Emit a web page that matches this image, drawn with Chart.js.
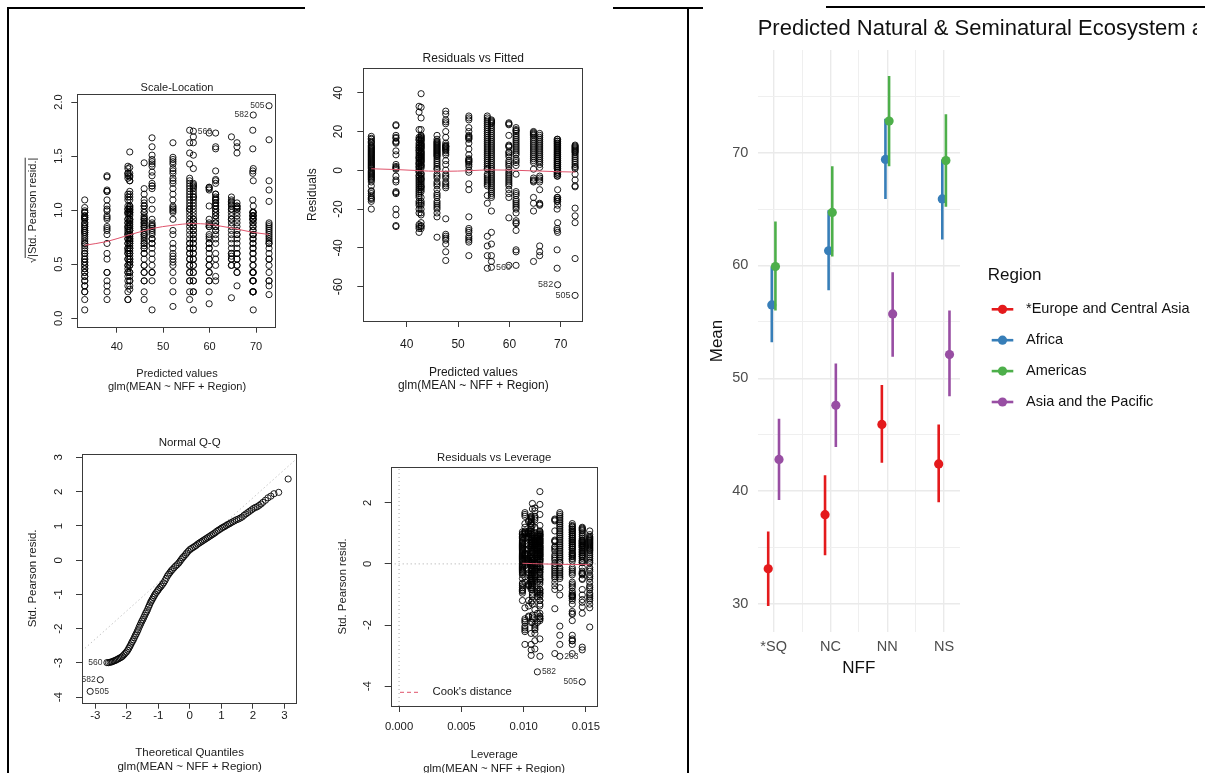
<!DOCTYPE html>
<html>
<head>
<meta charset="utf-8">
<title>GLM diagnostics and predicted means</title>
<script src="https://cdn.jsdelivr.net/npm/chart.js@4.4.1/dist/chart.umd.min.js"></script>
<style>
  html, body { margin: 0; padding: 0; background: #fff; }
  body { width: 1205px; height: 773px; position: relative; overflow: hidden; }
  canvas { position: absolute; }
  .rule { position: absolute; background: #000; }
</style>
</head>
<body>
<div class="rule" style="left:7px;top:7px;width:298px;height:1.5px"></div>
<div class="rule" style="left:7px;top:7px;width:2px;height:766px"></div>
<div class="rule" style="left:613px;top:7px;width:90px;height:1.5px"></div>
<div class="rule" style="left:687px;top:7px;width:2px;height:766px"></div>
<div class="rule" style="left:826px;top:6px;width:371px;height:1.5px"></div>
<div class="rule" style="left:1197px;top:5.5px;width:8px;height:2.5px"></div>

<canvas id="scaleLocation"></canvas>
<canvas id="residFitted"></canvas>
<canvas id="normalQQ"></canvas>
<canvas id="residLeverage"></canvas>
<canvas id="predicted"></canvas>

<script>
// ---------------- predicted Mean by NFF and Region (estimate, lower, upper) ----------------
const nffLevels = ['*SQ', 'NC', 'NN', 'NS'];
const regionNames = ['*Europe and Central Asia', 'Africa', 'Americas', 'Asia and the Pacific'];

const europeMean   = [33.1, 37.9, 45.9, 42.4];
const europeLow    = [29.8, 34.3, 42.5, 39.0];
const europeHigh   = [36.4, 41.4, 49.4, 45.9];
const africaMean   = [56.5, 61.3, 69.4, 65.9];
const africaLow    = [53.2, 57.8, 65.9, 62.3];
const africaHigh   = [59.9, 64.9, 73.0, 69.4];
const americasMean = [59.9, 64.7, 72.8, 69.3];
const americasLow  = [56.0, 60.8, 68.8, 65.2];
const americasHigh = [63.9, 68.8, 76.8, 73.4];
const asiaMean     = [42.8, 47.6, 55.7, 52.1];
const asiaLow      = [39.2, 43.9, 51.9, 48.4];
const asiaHigh     = [46.4, 51.3, 59.4, 56.0];

// ---------------- residuals of glm(MEAN ~ NFF + Region), one list per cell ----------------
const residEuropeSQ = [17.5, 16.5, 16, 15, 14.5, 14, 13, 12.5, 12, 11.5, 11, 10.5, 10, 9.5, 9, 8.5, 8, 7.5, 7, 6.5, 6, 5.5, 5, 4.5, 4, 3.5, 3, 2.5, 2, 1.5, 1, 0.1, -0.5, -1, -1.5, -2, -2.5, -3, -3.5, -4, -4.5, -5, -6, -8, -10.5, -11, -12, -13, -14, -14.5, -15, -16, -20];
const residEuropeNC = [23.5, 23, 18, 17, 16.5, 15, 14.5, 14, 10, 8, 3, 2, 1.5, 1, 0.5, -3, -5, -6, -11, -11.5, -12, -20, -23, -28.5, -29];
const residEuropeNN = [18, 16, 15, 14.5, 14, 13.5, 13, 12.5, 12, 11.5, 11, 10.5, 10, 9.5, 9, 8.5, 8, 7.5, 7, 6, 5, 4, 3, 2, 1, 0.5, -2, -3, -4, -6, -7, -8, -10, -12, -13, -14, -16, -17, -18, -19, -20, -22, -24, -34.5];
const residEuropeNS = [33, 30, 21, 17, 16, 15.5, 14, 13, 12, 11.5, 10.5, 10, 9, 8, 7, 6.5, 6, 5, 4, 3.5, 3, 2, 1.5, 0.5, -0.5, -1, -2.5, -3, -4, -5, -6, -7, -8, -9, -10, -11, -12, -13, -14, -16, -17, -18, -20, -22, -28, -29, -30, -32];
const residAfricaSQ = [26, 25.5, 25, 24.5, 24, 23, 22, 21, 20, 19, 18, 17, 16, 15, 14, 13, 12, 11, 10, 9, 8, 7, 6, 5, 4, 3, 2, 1, 0.1, -1, -2, -3, -4, -5, -6, -7, -8, -9, -10, -11, -12, -13, -14, -21, -32, -38, -44, -47, -50];
const residAfricaNC = [22, 21, 20.5, 20, 19, 18, 17, 16, 15, 14, 13, 12, 11, 10, 9, 8, 6, 5, 4, 2.5, -2, -11, -12, -13, -15, -16, -17, -18, -19, -20, -22, -26, -27, -27.5, -31, -41, -42, -49];
const residAfricaNN = [16, 15, 14, 13, 12, 11, 10, 9, 8, 7, 6, 5, 4, 3, 2, 1, 0.1, -1, -2, -3, -10, -14, -15, -16, -18, -27, -32, -59];
const residAfricaNS = [19, 18, 17, 16, 15, 14, 13, 12, 11, 10, 9, 8, 7, 6, 5, 4, 3, 1.5, -3, -4, -5, -6, -10, -17, -17.5, -18, -39, -42, -44];
const residAmericasSQ = [24.5, 24, 23.5, 18, 13, 12.5, 12, 9.5, 9, 8, 7, 5, 4, 3, 2, 0.3, -1, -2, -3, -4, -5, -6, -7, -8, -10, -12, -14, -24.5, -49];
const residAmericasNC = [20, 19.5, 19, 18.5, 18, 17, 16, 15, 14, 13, 12, 11, 10, 9, 8, 7, 6, 5, 4, 0.6, -4, -5, -5.5, -6, -14, -17, -21, -47];
const residAmericasNN = [13, 12.5, 12, 11.5, 11, 10.5, 10, 9.5, 9, 8, 7, 6, 5, 4, 3, 2, 1.5, 0.8, -2, -5, -8, -8.5, -19.5, -23.5, -27, -45.5, -64.5];
const residAmericasNS = [16, 15, 14, 13, 12, 11, 10, 9, 8, 7, 6, 5, 4, 3, 2, 1, -1, -2, -3, -14, -15, -16, -20, -30, -31, -41, -50.5];
const residAsiaSQ = [39.5, 32.5, 27, 21, 18, 17.5, 17, 16.5, 16, 15.5, 15, 14, 13.5, 13, 12.5, 12, 11.5, 11, 10, 9.5, 9, 8.5, 8, 7.5, 7, 6.5, 6, 5.5, 5, 4.5, 4, 3, 2.5, 2, 1.2, -1.5, -2, -3, -4, -4.5, -5, -6, -7, -8, -8.5, -9, -10, -11, -14, -16, -17, -18, -20, -22, -23, -27, -28.5, -29, -30];
const residAsiaNC = [30.5, 29, 26, 25, 24, 20, 17, 14, 13, 12.5, 12.2, 12, 11.5, 11, 10.5, 10, 9, 8, 5, 3, 0.1, -2, -3, -4, -6, -7, -8, -9, -25, -33, -34, -35, -36, -38, -42, -46.5];
const residAsiaNN = [28, 27, 26, 25, 24, 23, 22, 21, 20, 19, 18, 17, 16, 15, 14, 13, 12, 11, 10, 9, 8, 7, 6, 5, 4, 3, 2, 1, 0.5, -2, -3, -4, -5, -6, -7, -8, -13, -17, -34, -39, -44, -50.5];
const residAsiaNS = [28, 27, 26, 22, 20, 18, 17.5, 17, 16.5, 16, 14, 11, 8, 6, 5.5, 5, 4.5, 4, 3, 2, 0.2, -1, -7, -10, -24, -30, -31, -32, -34, -35, -36, -37, -44];

// hat values per cell (NFF order) and residual scale
const europeLeverage   = [0.0099, 0.0104, 0.0153, 0.0107];
const africaLeverage   = [0.0106, 0.0139, 0.0111, 0.0139];
const americasLeverage = [0.0125, 0.0147, 0.0147, 0.0113];
const asiaLeverage     = [0.0113, 0.0109, 0.0129, 0.0101];
const residualSigma = 16.7;

// loess smooths
const smoothFitted   = [33.1, 37.9, 42.6, 45.9, 47.6, 52.1, 56.1, 59.9, 61.3, 64.7, 65.9, 69.35, 72.8];
const smoothResid    = [0.8, 0.4, -0.2, -0.5, -0.5, -0.2, 0.2, 0.1, 0, -0.3, -0.4, -0.7, -0.9];
const smoothSqrtAbs  = [0.675, 0.71, 0.77, 0.81, 0.83, 0.86, 0.875, 0.87, 0.86, 0.835, 0.825, 0.795, 0.775];
const smoothLeverage = [0.0099, 0.0107, 0.0113, 0.0125, 0.0139, 0.0147, 0.0153];
const smoothStdResid = [0.02, 0.01, 0.0, -0.01, -0.02, -0.02, -0.03];

// normal Q-Q: theoretical quantiles and ordered standardized residuals
const qqTheoretical = [-3.16, -2.84, -2.63, -2.58, -2.53, -2.49, -2.45, -2.41, -2.37, -2.33, -2.29, -2.25, -2.21, -2.17, -2.13, -2.09, -2.05, -2.01, -1.97, -1.94, -1.91, -1.88, -1.85, -1.82, -1.79, -1.76, -1.73, -1.70, -1.67, -1.64, -1.61, -1.58, -1.55, -1.52, -1.49, -1.46, -1.43, -1.40, -1.37, -1.34, -1.31, -1.28, -1.25, -1.22, -1.19, -1.16, -1.13, -1.10, -1.06, -1.02, -0.99, -0.95, -0.91, -0.87, -0.83, -0.79, -0.75, -0.71, -0.67, -0.63, -0.59, -0.55, -0.50, -0.45, -0.40, -0.35, -0.31, -0.27, -0.23, -0.19, -0.14, -0.10, -0.05, 0.00, 0.05, 0.10, 0.15, 0.20, 0.25, 0.30, 0.35, 0.40, 0.45, 0.50, 0.55, 0.60, 0.65, 0.70, 0.75, 0.80, 0.85, 0.90, 0.95, 1.00, 1.05, 1.10, 1.15, 1.20, 1.25, 1.30, 1.36, 1.42, 1.48, 1.54, 1.60, 1.66, 1.72, 1.78, 1.84, 1.90, 1.96, 2.02, 2.08, 2.14, 2.20, 2.26, 2.32, 2.40, 2.48, 2.57, 2.67, 2.82, 3.12];
const qqStdResid = [-3.83, -3.49, -2.99, -2.99, -2.98, -2.97, -2.96, -2.94, -2.93, -2.91, -2.89, -2.87, -2.85, -2.83, -2.80, -2.76, -2.72, -2.68, -2.63, -2.58, -2.53, -2.48, -2.42, -2.37, -2.32, -2.26, -2.20, -2.15, -2.09, -2.03, -1.96, -1.90, -1.84, -1.78, -1.73, -1.67, -1.61, -1.55, -1.50, -1.44, -1.37, -1.31, -1.24, -1.19, -1.14, -1.09, -1.04, -0.99, -0.94, -0.89, -0.85, -0.80, -0.76, -0.71, -0.66, -0.60, -0.53, -0.46, -0.41, -0.36, -0.31, -0.27, -0.22, -0.17, -0.13, -0.08, -0.03, 0.02, 0.07, 0.11, 0.16, 0.21, 0.26, 0.31, 0.34, 0.37, 0.40, 0.43, 0.47, 0.50, 0.53, 0.56, 0.59, 0.62, 0.65, 0.68, 0.71, 0.74, 0.77, 0.80, 0.84, 0.87, 0.90, 0.93, 0.96, 0.98, 1.01, 1.04, 1.06, 1.09, 1.12, 1.15, 1.18, 1.20, 1.23, 1.26, 1.31, 1.35, 1.39, 1.43, 1.47, 1.51, 1.54, 1.56, 1.60, 1.64, 1.69, 1.75, 1.82, 1.87, 1.94, 1.98, 2.37];
const qqLineX = [-3.42, 3.41];
const qqLineY = [-2.65, 2.98];

// flagged observations
const flaggedIds = ['505', '582', '560'];
const flaggedFitted = [72.8, 69.4, 56.5];
const flaggedResid = [-64.5, -59, -50];
const flaggedLevIds = ['505', '582', '203'];
const flaggedLeverage = [0.0147, 0.0111, 0.0129];
const flaggedLevResid = [-64.5, -59, -50.5];

// ---------------- shared helpers ----------------
const FONT = '"Liberation Sans", Arial, Helvetica, sans-serif';
const measureCtx = document.createElement('canvas').getContext('2d');
function textWidth(s, size) { measureCtx.font = size + 'px ' + FONT; return measureCtx.measureText(s).width; }

const regionMeans = [europeMean, africaMean, americasMean, asiaMean];
const regionLow = [europeLow, africaLow, americasLow, asiaLow];
const regionHigh = [europeHigh, africaHigh, americasHigh, asiaHigh];
const regionLeverage = [europeLeverage, africaLeverage, americasLeverage, asiaLeverage];
const cellResiduals = [
  [residEuropeSQ, residEuropeNC, residEuropeNN, residEuropeNS],
  [residAfricaSQ, residAfricaNC, residAfricaNN, residAfricaNS],
  [residAmericasSQ, residAmericasNC, residAmericasNN, residAmericasNS],
  [residAsiaSQ, residAsiaNC, residAsiaNN, residAsiaNS]
];
const cells = [];
regionMeans.forEach((means, r) => means.forEach((m, i) => {
  cells.push({ fitted: m, lev: regionLeverage[r][i], res: cellResiduals[r][i] });
}));

const R_POINT = { type: 'scatter', pointStyle: 'circle', pointRadius: 3.1, pointBorderWidth: 1,
  pointBorderColor: 'rgba(0,0,0,0.88)', pointBackgroundColor: 'rgba(0,0,0,0)', order: 2 };
const R_SMOOTH = { type: 'line', borderColor: '#DF536B', borderWidth: 1, pointRadius: 0,
  fill: false, cubicInterpolationMode: 'monotone', order: 0 };
const R_DOTTED = { type: 'line', borderColor: '#a8a8a8', borderWidth: 1, borderDash: [1, 3],
  pointRadius: 0, fill: false, order: 3 };

function pairs(xs, ys) { return xs.map((x, i) => ({ x, y: ys[i] })); }

function makeRFrame(d) {
  return {
    id: 'rFrame',
    afterDraw(chart) {
      const { ctx, chartArea: ca, scales } = chart;
      const ox = d.frame.left, oy = d.frame.top, fs = d.fs;
      ctx.save();
      ctx.strokeStyle = '#3a3a3a';
      ctx.lineWidth = 1;
      ctx.strokeRect(Math.round(ca.left) + 0.5, Math.round(ca.top) + 0.5,
        Math.round(ca.right - ca.left) - 1, Math.round(ca.bottom - ca.top));
      ctx.fillStyle = '#1a1a1a';
      ctx.font = fs + 'px ' + FONT;
      ctx.textAlign = 'center';
      ctx.textBaseline = 'middle';
      const cx = (ca.left + ca.right) / 2, cy = (ca.top + ca.bottom) / 2;
      ctx.fillText(d.title, cx, d.titleY - oy);
      d.xlab.forEach(([t, y]) => ctx.fillText(t, cx, y - oy));
      ctx.save();
      ctx.translate(d.ylabX - ox, cy);
      ctx.rotate(-Math.PI / 2);
      if (d.sqrtLabel) {
        const root = '\u221A', body = d.ylab;
        const wr = ctx.measureText(root).width, wb = ctx.measureText(body).width;
        const start = -(wr + wb) / 2;
        ctx.textAlign = 'left';
        ctx.textBaseline = 'alphabetic';
        ctx.fillText(root, start, 4);
        ctx.fillText(body, start + wr, 4);
        ctx.beginPath();
        ctx.lineWidth = 0.9;
        ctx.strokeStyle = '#1a1a1a';
        ctx.moveTo(start + wr - 1, -6.5);
        ctx.lineTo(start + wr + wb, -6.5);
        ctx.stroke();
      } else {
        ctx.fillText(d.ylab, 0, 0);
      }
      ctx.restore();
      ctx.font = d.idFs + 'px ' + FONT;
      ctx.fillStyle = '#333';
      ctx.textBaseline = 'middle';
      d.ids.forEach(l => {
        const px = scales.x.getPixelForValue(l.x), py = scales.y.getPixelForValue(l.y);
        ctx.textAlign = l.side === 'left' ? 'right' : 'left';
        ctx.fillText(l.text, px + (l.side === 'left' ? -4.5 : 4.5), py);
      });
      if (d.cookLegend) {
        ctx.strokeStyle = '#DF536B';
        ctx.lineWidth = 1;
        ctx.setLineDash([4, 3]);
        ctx.beginPath();
        ctx.moveTo(400 - ox, 692.3 - oy);
        ctx.lineTo(421 - ox, 692.3 - oy);
        ctx.stroke();
        ctx.setLineDash([]);
        ctx.font = fs + 'px ' + FONT;
        ctx.fillStyle = '#1a1a1a';
        ctx.textAlign = 'left';
        ctx.fillText("Cook's distance", 432.5 - ox, 692.3 - oy);
      }
      ctx.restore();
    }
  };
}

function rChart(id, frame, box, xAx, yAx, datasets, decor) {
  const cv = document.getElementById(id);
  cv.style.left = frame.left + 'px';
  cv.style.top = frame.top + 'px';
  cv.width = frame.width;
  cv.height = frame.height;
  const tickLen = 6, fs = decor.fs, lh = fs * 1.2;
  const yW = box.left - frame.left;
  const padTop = box.top - frame.top;
  const padRight = frame.left + frame.width - box.right;
  const xH = frame.top + frame.height - box.bottom;
  let widest = 0;
  for (let v = Math.ceil(yAx.min / yAx.step - 1e-9) * yAx.step; v <= yAx.max + 1e-9; v += yAx.step) {
    widest = Math.max(widest, textWidth(yAx.fmt(Math.round(v * 1e6) / 1e6), fs));
  }
  const xPad = decor.xTickY - box.bottom - tickLen - lh / 2;
  const yPad = box.left - decor.yTickX - tickLen - widest / 2;
  decor.frame = frame;
  const axisCommon = {
    type: 'linear',
    border: { display: false },
    grid: { drawOnChartArea: false, drawTicks: true, tickLength: tickLen, color: '#3a3a3a', lineWidth: 1 }
  };
  return new Chart(cv, {
    type: 'scatter',
    data: { datasets },
    options: {
      responsive: false, animation: false, events: [],
      layout: { padding: { left: 0, top: padTop, right: padRight, bottom: 0 } },
      plugins: { legend: { display: false }, tooltip: { enabled: false } },
      scales: {
        x: Object.assign({}, axisCommon, {
          min: xAx.min, max: xAx.max,
          afterFit: s => { s.height = xH; },
          ticks: { stepSize: xAx.step, includeBounds: false, autoSkip: false, maxRotation: 0, minRotation: 0,
            padding: xPad, color: '#1a1a1a', font: { family: FONT, size: fs }, callback: v => xAx.fmt(v) }
        }),
        y: Object.assign({}, axisCommon, {
          min: yAx.min, max: yAx.max,
          afterFit: s => { s.width = yW; },
          ticks: { stepSize: yAx.step, includeBounds: false, autoSkip: false, minRotation: 90, maxRotation: 90,
            crossAlign: 'center', padding: yPad, color: '#1a1a1a', font: { family: FONT, size: fs },
            callback: v => yAx.fmt(v) }
        })
      }
    },
    plugins: [makeRFrame(decor)]
  });
}

const fmtInt = v => String(Math.round(v));
const fmt1 = v => v.toFixed(1);
const fmt3 = v => v.toFixed(3);
const glmCall = 'glm(MEAN ~ NFF + Region)';

// ---------------- Scale-Location ----------------
rChart('scaleLocation',
  { left: 10, top: 66, width: 292, height: 330 },
  { left: 77.3, top: 94, right: 276.7, bottom: 326.7 },
  { min: 31.5, max: 74.45, step: 10, fmt: fmtInt },
  { min: -0.078, max: 2.074, step: 0.5, fmt: fmt1 },
  [
    Object.assign({}, R_SMOOTH, { data: pairs(smoothFitted, smoothSqrtAbs) }),
    Object.assign({}, R_POINT, { data: cells.flatMap(c => c.res.map(e => ({ x: c.fitted, y: Math.sqrt(Math.abs(e) / residualSigma) }))) })
  ],
  { fs: 11, idFs: 8.5, title: 'Scale-Location', titleY: 88, xlab: [['Predicted values', 374], [glmCall, 387]],
    ylab: '|Std. Pearson resid.|', sqrtLabel: true, ylabX: 31.7, xTickY: 346.7, yTickX: 59.3,
    ids: flaggedIds.map((t, i) => ({ text: t, x: flaggedFitted[i], y: Math.sqrt(Math.abs(flaggedResid[i]) / residualSigma),
      side: t === '560' ? 'right' : 'left' })) }
);

// ---------------- Residuals vs Fitted ----------------
rChart('residFitted',
  { left: 302, top: 40, width: 300, height: 356 },
  { left: 363.3, top: 68.3, right: 583.3, bottom: 321 },
  { min: 31.54, max: 74.4, step: 10, fmt: fmtInt },
  { min: -77.7, max: 52.6, step: 20, fmt: fmtInt },
  [
    Object.assign({}, R_SMOOTH, { data: pairs(smoothFitted, smoothResid) }),
    Object.assign({}, R_POINT, { data: cells.flatMap(c => c.res.map(e => ({ x: c.fitted, y: e }))) })
  ],
  { fs: 12, idFs: 9, title: 'Residuals vs Fitted', titleY: 59, xlab: [['Predicted values', 372.7], [glmCall, 386]],
    ylab: 'Residuals', ylabX: 312.7, xTickY: 345, yTickX: 338.3,
    ids: flaggedIds.map((t, i) => ({ text: t, x: flaggedFitted[i], y: flaggedResid[i], side: t === '560' ? 'right' : 'left' })) }
);

// ---------------- Normal Q-Q ----------------
rChart('normalQQ',
  { left: 10, top: 425, width: 300, height: 348 },
  { left: 82, top: 454, right: 297.3, bottom: 702.7 },
  { min: -3.42, max: 3.41, step: 1, fmt: fmtInt },
  { min: -4.16, max: 3.1, step: 1, fmt: fmtInt },
  [
    Object.assign({}, R_DOTTED, { data: pairs(qqLineX, qqLineY) }),
    Object.assign({}, R_POINT, { data: pairs(qqTheoretical, qqStdResid) })
  ],
  { fs: 11.5, idFs: 8.5, title: 'Normal Q-Q', titleY: 443.3, xlab: [['Theoretical Quantiles', 753.3], [glmCall, 766.7]],
    ylab: 'Std. Pearson resid.', ylabX: 32.7, xTickY: 716, yTickX: 58.8,
    ids: [
      { text: '505', x: qqTheoretical[0], y: qqStdResid[0], side: 'right' },
      { text: '582', x: qqTheoretical[1], y: qqStdResid[1], side: 'left' },
      { text: '560', x: qqTheoretical[2], y: qqStdResid[2], side: 'left' }
    ] }
);

// ---------------- Residuals vs Leverage ----------------
rChart('residLeverage',
  { left: 310, top: 430, width: 300, height: 343 },
  { left: 390.7, top: 466.7, right: 597.7, bottom: 706 },
  { min: -0.00067, max: 0.01594, step: 0.005, fmt: fmt3 },
  { min: -4.65, max: 3.18, step: 2, fmt: fmtInt },
  [
    Object.assign({}, R_SMOOTH, { data: pairs(smoothLeverage, smoothStdResid) }),
    Object.assign({}, R_DOTTED, { data: [{ x: -0.00067, y: 0 }, { x: 0.01594, y: 0 }] }),
    Object.assign({}, R_DOTTED, { data: [{ x: 0, y: -4.65 }, { x: 0, y: 3.18 }] }),
    Object.assign({}, R_POINT, { data: cells.flatMap(c => c.res.map(e => ({ x: c.lev, y: e / residualSigma }))) })
  ],
  { fs: 11.3, idFs: 8.5, title: 'Residuals vs Leverage', titleY: 458.3, xlab: [['Leverage', 755.3], [glmCall, 768.7]],
    ylab: 'Std. Pearson resid.', ylabX: 343.3, xTickY: 727.3, yTickX: 368.3, cookLegend: true,
    ids: flaggedLevIds.map((t, i) => ({ text: t, x: flaggedLeverage[i], y: flaggedLevResid[i] / residualSigma,
      side: t === '505' ? 'left' : 'right' })) }
);

// ---------------- predicted means (point + interval) ----------------
(function () {
  const frame = { left: 690, top: 9, width: 507, height: 764 };
  const box = { left: 757.7, top: 50, right: 960, bottom: 632 };
  const colors = ['#E41A1C', '#377EB8', '#4DAF4A', '#984EA3'];
  const dodge = [-0.095, -0.032, 0.032, 0.095];
  const tickFs = 14.5, lh = tickFs * 1.2;
  const cv = document.getElementById('predicted');
  cv.style.left = frame.left + 'px';
  cv.style.top = frame.top + 'px';
  cv.width = frame.width;
  cv.height = frame.height;

  const datasets = [];
  regionNames.forEach((name, r) => {
    const seg = [];
    nffLevels.forEach((lvl, i) => {
      const x = i + 1 + dodge[r];
      seg.push({ x, y: regionLow[r][i] }, { x, y: regionHigh[r][i] }, { x, y: null });
    });
    datasets.push({ type: 'line', label: name, data: seg, borderColor: colors[r], borderWidth: 2.6,
      borderCapStyle: 'butt', pointRadius: 0, spanGaps: false, fill: false, order: 2 * (3 - r) + 1 });
    datasets.push({ type: 'scatter', label: name, data: regionMeans[r].map((m, i) => ({ x: i + 1 + dodge[r], y: m })),
      pointRadius: 4.6, pointBorderWidth: 0, pointBackgroundColor: colors[r], order: 2 * (3 - r) });
  });

  const isMajorX = v => Math.abs(v - Math.round(v)) < 1e-6;
  const isMajorY = v => Math.abs(v / 10 - Math.round(v / 10)) < 1e-6;

  const decor = {
    id: 'ggDecor',
    afterDraw(chart) {
      const { ctx, chartArea: ca } = chart;
      const ox = frame.left, oy = frame.top;
      ctx.save();
      ctx.fillStyle = '#111';
      ctx.font = '22px ' + FONT;
      ctx.textAlign = 'left';
      ctx.textBaseline = 'alphabetic';
      ctx.fillText('Predicted Natural & Seminatural Ecosystem a', ca.left, 34.5 - oy);
      ctx.font = '17px ' + FONT;
      ctx.textAlign = 'center';
      ctx.textBaseline = 'middle';
      ctx.fillText('NFF', (ca.left + ca.right) / 2, 668 - oy);
      ctx.save();
      ctx.translate(717.7 - ox, (ca.top + ca.bottom) / 2);
      ctx.rotate(-Math.PI / 2);
      ctx.fillText('Mean', 0, 0);
      ctx.restore();
      // legend
      ctx.textAlign = 'left';
      ctx.fillText('Region', 987.7 - ox, 275 - oy);
      ctx.font = '14.5px ' + FONT;
      regionNames.forEach((name, r) => {
        const y = 309.3 + r * 30.9 - oy;
        ctx.strokeStyle = colors[r];
        ctx.lineWidth = 2.6;
        ctx.beginPath();
        ctx.moveTo(991.7 - ox, y);
        ctx.lineTo(1013.3 - ox, y);
        ctx.stroke();
        ctx.fillStyle = colors[r];
        ctx.beginPath();
        ctx.arc(1002.5 - ox, y, 4.6, 0, Math.PI * 2);
        ctx.fill();
        ctx.fillStyle = '#111';
        ctx.fillText(name, 1026 - ox, y);
      });
      ctx.restore();
    }
  };

  new Chart(cv, {
    type: 'scatter',
    data: { datasets },
    options: {
      responsive: false, animation: false, events: [],
      layout: { padding: { left: 0, top: box.top - frame.top, right: frame.left + frame.width - box.right, bottom: 0 } },
      plugins: { legend: { display: false }, tooltip: { enabled: false } },
      scales: {
        x: {
          type: 'linear', min: 0.72, max: 4.28,
          afterFit: s => { s.height = frame.top + frame.height - box.bottom; },
          border: { display: false },
          grid: { drawTicks: false,
            color: c => (c.tick && isMajorX(c.tick.value)) ? '#EAEAEA' : '#EFEFEF',
            lineWidth: c => (c.tick && isMajorX(c.tick.value)) ? 1.4 : 1 },
          ticks: { stepSize: 0.5, includeBounds: false, autoSkip: false, maxRotation: 0,
            padding: 646.7 - box.bottom - lh / 2, color: '#4D4D4D', font: { family: FONT, size: tickFs },
            callback: v => isMajorX(v) ? nffLevels[Math.round(v) - 1] : '' }
        },
        y: {
          type: 'linear', min: 27.5, max: 79.1,
          afterFit: s => { s.width = box.left - frame.left; },
          border: { display: false },
          grid: { drawTicks: false,
            color: c => (c.tick && isMajorY(c.tick.value)) ? '#EAEAEA' : '#EFEFEF',
            lineWidth: c => (c.tick && isMajorY(c.tick.value)) ? 1.4 : 1 },
          ticks: { stepSize: 5, includeBounds: false, autoSkip: false,
            padding: box.left - 748.3, color: '#4D4D4D', font: { family: FONT, size: tickFs },
            callback: v => isMajorY(v) ? String(v) : '' }
        }
      }
    },
    plugins: [decor]
  });
})();
</script>
</body>
</html>
